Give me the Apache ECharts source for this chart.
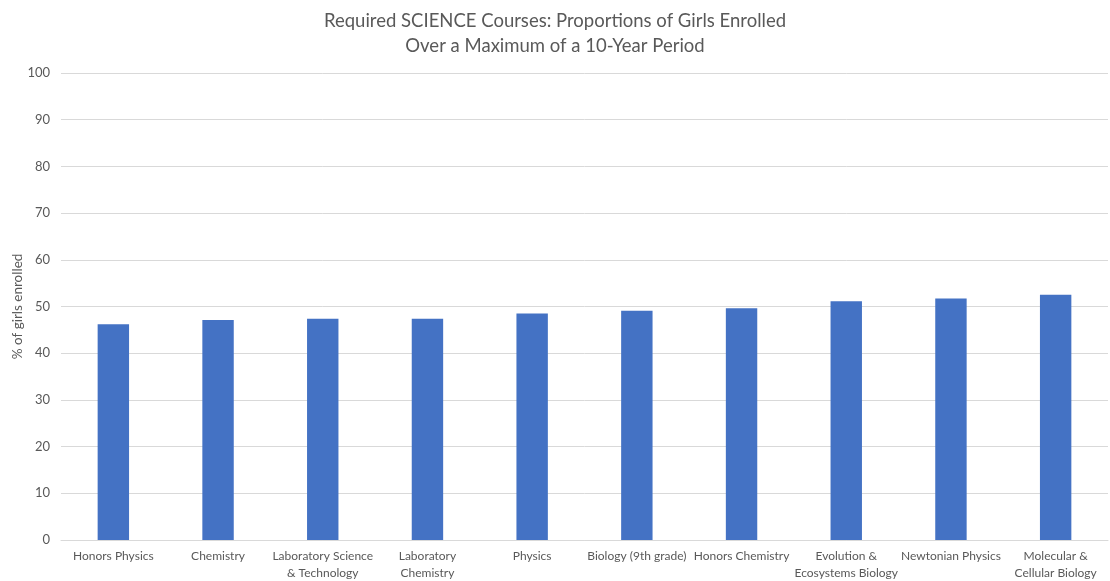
<!DOCTYPE html>
<html>
<head>
<meta charset="utf-8">
<script src="https://cdn.jsdelivr.net/npm/echarts@6/dist/echarts.min.js"></script>
<style>
  html, body { margin: 0; padding: 0; background: #fff; }
  #chart { width: 1110px; height: 581px; }
</style>
</head>
<body>
<div id="chart"></div>
<script>
// Course names (line breaks mark where the axis labels wrap)
const courses = [
  'Honors Physics',
  'Chemistry',
  'Laboratory Science\n& Technology',
  'Laboratory\nChemistry',
  'Physics',
  'Biology (9th grade)',
  'Honors Chemistry',
  'Evolution &\nEcosystems Biology',
  'Newtonian Physics',
  'Molecular &\nCellular Biology'
];

// Percentage of girls enrolled in each course
const girlsPct = [46.2, 47.1, 47.4, 47.4, 48.5, 49.1, 49.6, 51.1, 51.7, 52.5];

const yTicks = { min: 0, max: 100, interval: 10 };

const titleLines = [
  'Required SCIENCE Courses: Proportions of Girls Enrolled',
  'Over a Maximum of a 10-Year Period'
];
const yAxisTitle = '% of girls enrolled';

const textColor = '#595959';
const fontFamily = 'Lato, "Open Sans", sans-serif';

const chart = echarts.init(document.getElementById('chart'), null, { renderer: 'canvas' });

chart.setOption({
  animation: false,
  backgroundColor: '#ffffff',
  textStyle: { fontFamily: fontFamily },
  title: {
    text: titleLines.join('\n'),
    left: 'center',
    top: 4,
    textStyle: {
      fontFamily: fontFamily,
      fontSize: 18.5,
      fontWeight: 'normal',
      color: textColor,
      lineHeight: 25
    }
  },
  grid: {
    left: 61,
    right: 2,
    top: 73,
    bottom: 41,
    containLabel: false,
    outerBoundsMode: 'none'
  },
  xAxis: {
    type: 'category',
    data: courses,
    axisLine: { show: true, lineStyle: { color: '#d9d9d9', width: 1 } },
    axisTick: { show: false },
    axisLabel: {
      interval: 0,
      color: textColor,
      fontSize: 12,
      fontFamily: fontFamily,
      lineHeight: 17,
      margin: 8
    }
  },
  yAxis: {
    type: 'value',
    min: yTicks.min,
    max: yTicks.max,
    interval: yTicks.interval,
    name: yAxisTitle,
    nameLocation: 'middle',
    nameGap: 36,
    nameMoveOverlap: false,
    nameRotate: 90,
    nameTextStyle: { color: textColor, fontSize: 13.5, fontFamily: fontFamily },
    axisLine: { show: false },
    axisTick: { show: false },
    axisLabel: { color: textColor, fontSize: 13, fontFamily: fontFamily, margin: 11 },
    splitLine: { show: true, lineStyle: { color: '#d9d9d9', width: 1 } }
  },
  series: [{
    type: 'bar',
    data: girlsPct,
    barWidth: '30%',
    itemStyle: { color: '#4472c4' }
  }]
});
</script>
</body>
</html>
